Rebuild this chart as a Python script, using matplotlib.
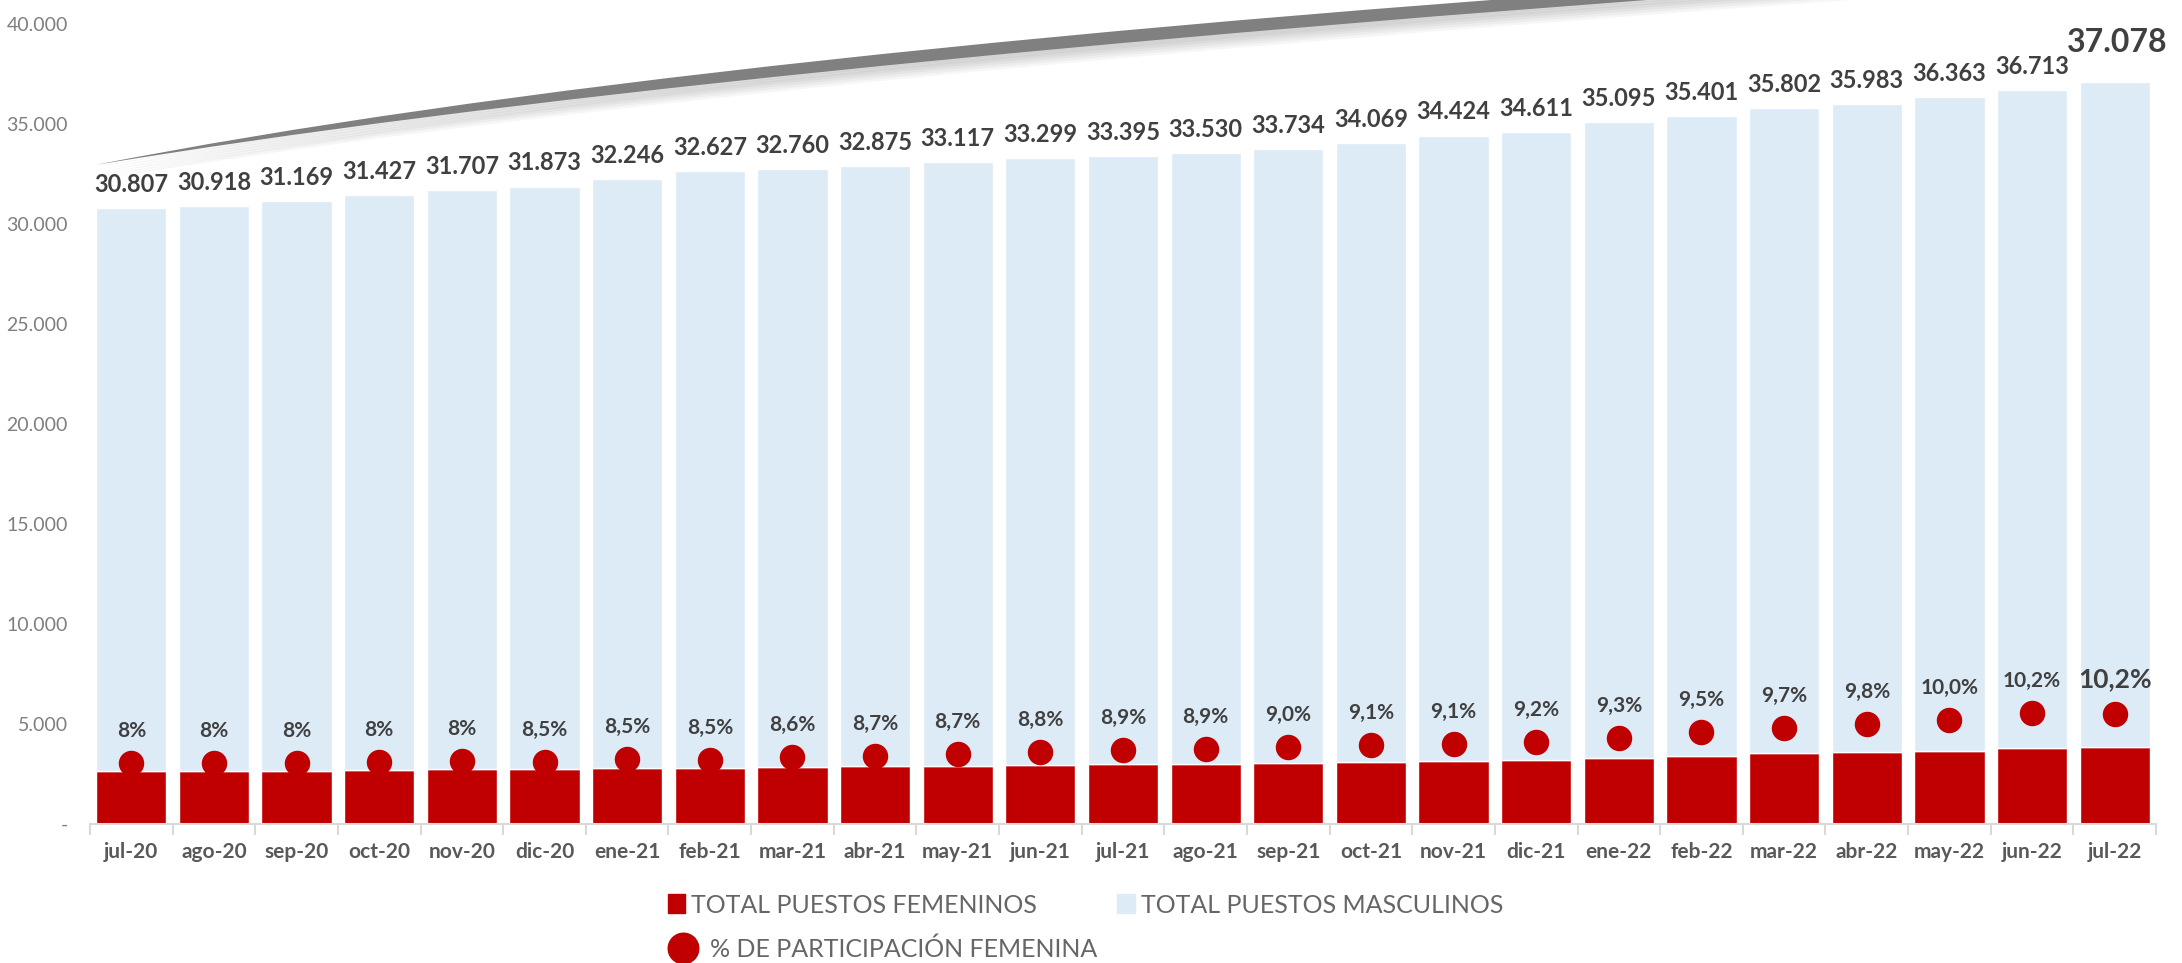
import matplotlib
matplotlib.use("Agg")
import matplotlib.pyplot as plt
from matplotlib.path import Path
from matplotlib.patches import PathPatch, Patch
from matplotlib.lines import Line2D
from matplotlib.transforms import Affine2D
from matplotlib.ticker import FixedLocator, FuncFormatter

plt.rcParams["font.family"] = ["Lato", "DejaVu Sans"]

months = ["jul-20", "ago-20", "sep-20", "oct-20", "nov-20", "dic-20", "ene-21", "feb-21",
          "mar-21", "abr-21", "may-21", "jun-21", "jul-21", "ago-21", "sep-21", "oct-21",
          "nov-21", "dic-21", "ene-22", "feb-22", "mar-22", "abr-22", "may-22", "jun-22", "jul-22"]

total_puestos = [30807, 30918, 31169, 31427, 31707, 31873, 32246, 32627, 32760, 32875, 33117, 33299,
                 33395, 33530, 33734, 34069, 34424, 34611, 35095, 35401, 35802, 35983, 36363, 36713, 37078]

puestos_femeninos = [2670, 2670, 2670, 2720, 2770, 2770, 2820, 2800, 2850, 2900, 2900, 2950,
                     3000, 3000, 3050, 3100, 3170, 3220, 3320, 3420, 3530, 3580, 3670, 3780, 3830]

# dot positions (secondary axis, %)
pct_participacion = [8.63, 8.63, 8.63, 8.65, 8.69, 8.66, 8.77, 8.74, 8.82, 8.87, 8.94, 9.00,
                     9.07, 9.11, 9.17, 9.24, 9.29, 9.36, 9.49, 9.70, 9.83, 9.95, 10.11, 10.32, 10.29]
pct_labels = ["8%", "8%", "8%", "8%", "8%", "8,5%", "8,5%", "8,5%", "8,6%", "8,7%", "8,7%", "8,8%",
              "8,9%", "8,9%", "9,0%", "9,1%", "9,1%", "9,2%", "9,3%", "9,5%", "9,7%", "9,8%",
              "10,0%", "10,2%", "10,2%"]

RED = "#C00000"
BLUE = "#DDEBF7"
W, H = 2182, 963

puestos_masculinos = [t - f for t, f in zip(total_puestos, puestos_femeninos)]
x = list(range(len(months)))

fig = plt.figure(figsize=(W / 100, H / 100), dpi=100)
ax = fig.add_axes([90 / W, 1 - 824 / H, (2156 - 90) / W, 800 / H])

ax.bar(x, puestos_femeninos, width=0.85, color=RED, edgecolor="white", linewidth=1, zorder=2)
ax.bar(x, puestos_masculinos, width=0.85, bottom=puestos_femeninos, color=BLUE,
       edgecolor="white", linewidth=1, zorder=2)

ax.set_xlim(-0.5, len(months) - 0.5)
ax.set_ylim(0, 40000)
ax.set_yticks(range(0, 40001, 5000))
ax.yaxis.set_major_formatter(FuncFormatter(lambda v, p: "-" if v == 0 else f"{int(v):,}".replace(",", ".")))
ax.tick_params(axis="y", length=0, pad=16, labelsize=14, labelcolor="#7f7f7f")

ax.set_xticks(x)
ax.set_xticklabels(months, fontsize=15, fontweight="bold", color="#595959")
ax.xaxis.set_minor_locator(FixedLocator([i - 0.5 for i in range(len(months) + 1)]))
ax.tick_params(axis="x", which="major", length=0, pad=13)
ax.tick_params(axis="x", which="minor", length=8, color="#d9d9d9", width=1.5)

for s in ["top", "right", "left"]:
    ax.spines[s].set_visible(False)
ax.spines["bottom"].set_color("#d9d9d9")
ax.spines["bottom"].set_linewidth(1.5)

# total labels
for i, t in enumerate(total_puestos):
    last = i == len(total_puestos) - 1
    ax.annotate(f"{t:,}".replace(",", "."), (i, t), xytext=(2 if last else 0, 29 if last else 17),
                textcoords="offset points", ha="center", va="center",
                fontsize=23 if last else 17, fontweight="bold", color="#404040")

# % participacion on a hidden secondary axis
ax2 = ax.twinx()
ax2.set_ylim(6.55, 33.82)
ax2.axis("off")
ax2.scatter(x, pct_participacion, s=300, color=RED, zorder=3)
for i, (p, lab) in enumerate(zip(pct_participacion, pct_labels)):
    last = i == len(pct_labels) - 1
    ax2.annotate(lab, (i, p), xytext=(0, 25 if last else 23), textcoords="offset points",
                 ha="center", va="center", fontsize=19 if last else 15,
                 fontweight="bold", color="#404040")

# legend, two rows
h_fem = Patch(facecolor=RED, edgecolor=RED)
h_mas = Patch(facecolor=BLUE, edgecolor=BLUE)
h_pct = Line2D([], [], marker="o", linestyle="none", markersize=22, color=RED)
fig.legend([h_fem, h_mas], ["TOTAL PUESTOS FEMENINOS", "TOTAL PUESTOS MASCULINOS"],
           ncol=2, loc="center left", bbox_to_anchor=(655 / W, 1 - 905 / H),
           frameon=False, fontsize=18, labelcolor="#666666", handlelength=0.7,
           handleheight=0.8, handletextpad=0.25, columnspacing=3.2, borderpad=0)
fig.legend([h_pct], ["% DE PARTICIPACIÓN FEMENINA"], loc="center left",
           bbox_to_anchor=(655 / W, 1 - 949 / H), frameon=False, fontsize=18,
           labelcolor="#666666", handlelength=1.2, handletextpad=0.5, borderpad=0)

# grey swoosh at the top (pixel coords, y down)
px = Affine2D().scale(1 / W, -1 / H).translate(0, 1) + fig.transFigure
verts = [(95, 165), (680, 50), (1850, -25), (1850, -15), (680, 68), (95, 165), (95, 165)]
codes = [Path.MOVETO, Path.CURVE3, Path.CURVE3, Path.LINETO, Path.CURVE3, Path.CURVE3, Path.CLOSEPOLY]
swoosh = Path(verts, codes)
for k in range(1, 7):
    shadow = PathPatch(swoosh, facecolor="black", edgecolor="none", alpha=0.035,
                       transform=Affine2D().translate(0, 2.5 * k) + px)
    fig.add_artist(shadow)
fig.add_artist(PathPatch(swoosh, facecolor="#808080", edgecolor="none", transform=px))

fig.savefig("out.png", dpi=100)
